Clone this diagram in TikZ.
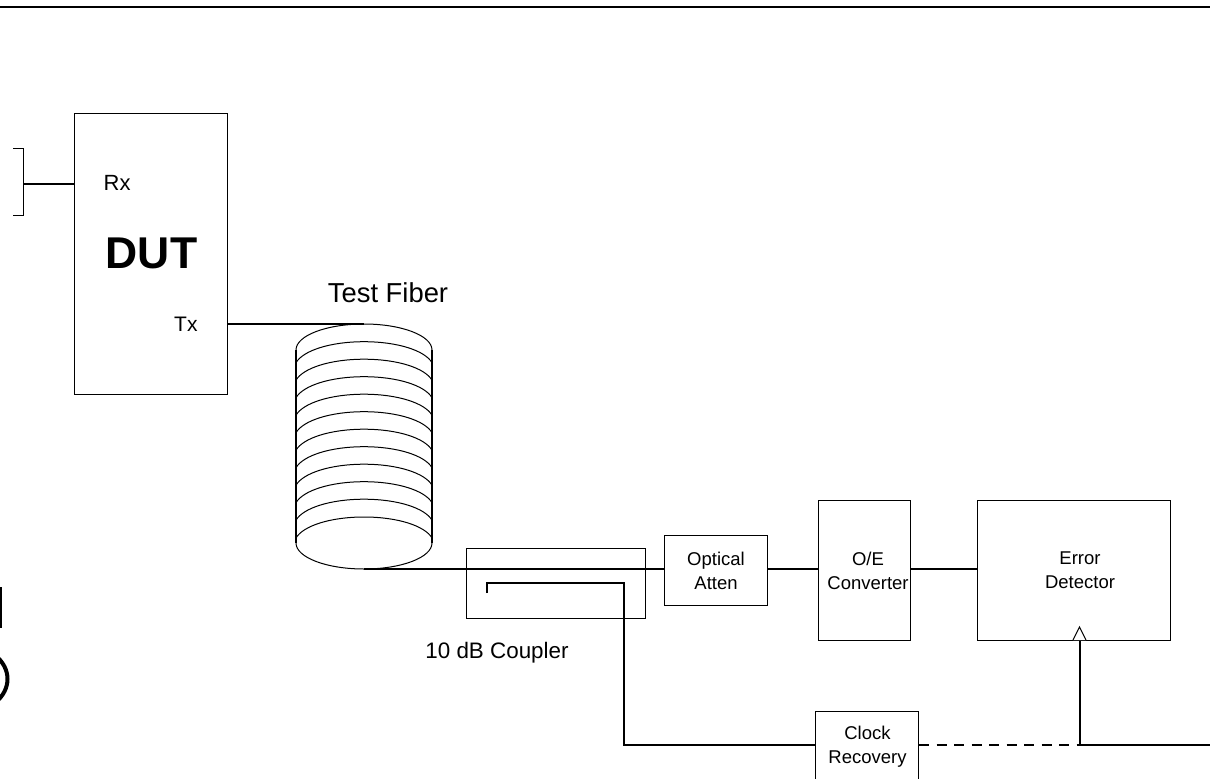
\documentclass[tikz,border=0pt]{standalone}
\usepackage{fontspec}
\setmainfont{Liberation Sans}
\tikzset{
  px/.style={x=1pt,y=-1pt},
  box/.style={draw=black,line width=1pt,fill=none,inner sep=0pt,anchor=north west},
  wire/.style={draw=black,line width=1.5pt},
  coil/.style={draw=black,line width=1pt},
  lab/.style={align=center,font=\fontsize{18.5}{24}\selectfont,inner sep=0pt}
}
\begin{document}
\begin{tikzpicture}[px]
\useasboundingbox (0,0) rectangle (1210,779);
\begin{scope}
\clip (0,0) rectangle (1210,779);
\draw[line width=1.5pt] (0,7) -- (1210,7);
% left fragments
\draw[line width=3pt] (0.7,587) -- (0.7,628);
\draw[line width=4pt] (-4,656) .. controls (3,662) and (7.5,670) .. (7.5,679) .. controls (7.5,688) and (3,696) .. (-4,702);
% bracket
\coordinate (brt) at (13,148); \coordinate (brb) at (13,215);
\coordinate (brm) at (23,184);
\draw[line width=1pt] (brt) -- (23,148) -- (23,215) -- (brb);
% boxes
\node[box,minimum width=153pt,minimum height=281pt] (dut) at (74,113) {};
\node[box,minimum width=179pt,minimum height=70pt] (coupler) at (466,548) {};
\node[box,minimum width=103pt,minimum height=70pt] (atten) at (664,535) {};
\node[lab] (attenl) at (716,570.5) {Optical\\Atten};
\node[box,minimum width=92pt,minimum height=140pt] (oe) at (818,500) {};
\node[lab] (oel) at (868,570.5) {O/E\\Converter};
\node[box,minimum width=193pt,minimum height=140pt] (err) at (977,500) {};
\node[lab] (errl) at (1080,570.5) {Error\\Detector};
\node[box,minimum width=103pt,minimum height=100pt] (clock) at (815,711) {};
\node[lab] (clockl) at (867.5,746.5) {Clock\\Recovery};
% labels
\node[font=\fontsize{22}{26}\selectfont,inner sep=0pt,anchor=base west] (rx) at (103.5,190.5) {Rx};
\node[font=\fontsize{21}{26}\selectfont,inner sep=0pt,anchor=base west] (tx) at (174,331) {Tx};
\node[font=\bfseries\fontsize{44.5}{50}\selectfont,inner sep=0pt,anchor=base] (dutl) at (151.5,268) {DUT};
\node[font=\fontsize{27.4}{32}\selectfont,inner sep=0pt,anchor=base] (fiberl) at (388,302) {Test Fiber};
\node[font=\fontsize{22.4}{26}\selectfont,inner sep=0pt,anchor=base] (coupl) at (497,658.5) {10 dB Coupler};
% fiber coil
\coordinate (ftop) at (364,324);
\coordinate (fbot) at (364,569);
\draw[coil] (296,350) .. controls (296,335.6) and (326.4,324) .. (364,324) .. controls (401.6,324) and (432,335.6) .. (432,350);
\foreach \t in {341.7,359.2,376.7,394.2,411.7,429.2,446.7,464.2,481.7,499.2,517}{
  \draw[coil] (296,\t+21) .. controls (303,\t+9) and (330,\t) .. (364,\t) .. controls (398,\t) and (425,\t+9) .. (432,\t+21);
}
\draw[coil,line width=1.5pt] (296,350) -- (296,543);
\draw[coil,line width=1.5pt] (432,350) -- (432,543);
\draw[coil] (296,543) .. controls (296,557.4) and (326.4,569) .. (364,569) .. controls (401.6,569) and (432,557.4) .. (432,543);
% connectors
\draw[wire] (brm) -- (dut.west |- brm);
\draw[wire] (dut.east |- ftop) -- (ftop);
\draw[wire] (fbot) -- (atten.west |- fbot);
\draw[wire] (atten.east |- fbot) -- (oe.west |- fbot);
\draw[wire] (oe.east |- fbot) -- (err.west |- fbot);
\coordinate (cs) at (487,593);
\coordinate (jn) at (1080,745);
\coordinate (redge) at (1210,745);
\draw[wire] (cs) |- (624,583) -- (624,745) -- (clock.west |- jn);
\draw[wire,dash pattern=on 10pt off 7.5pt] (clock.east |- jn) -- (jn);
\draw[wire] (jn) -- (redge);
\draw[wire,line width=2.2pt] (jn) -- (jn |- err.south);
\draw[line width=1pt,fill=white] (1073,640) -- (1079.5,627) -- (1086,640);
\end{scope}
\end{tikzpicture}
\end{document}
